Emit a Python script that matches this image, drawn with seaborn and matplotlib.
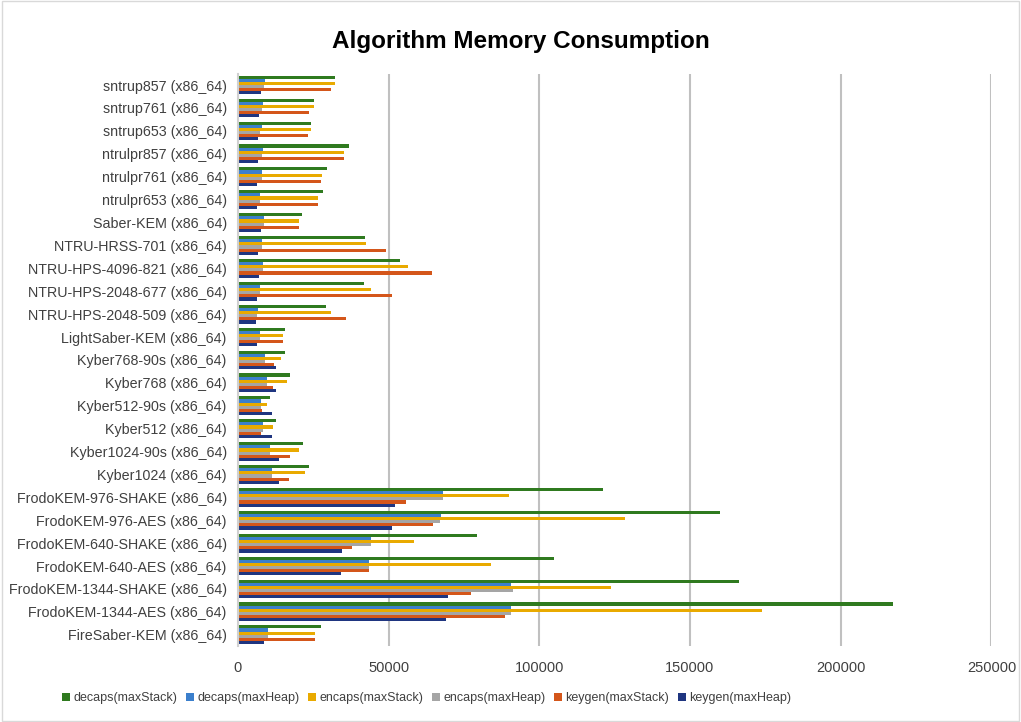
import matplotlib
matplotlib.use("Agg")
import matplotlib.pyplot as plt
import seaborn as sns
import pandas as pd
from matplotlib.patches import Rectangle

categories = [
    "sntrup857 (x86_64)", "sntrup761 (x86_64)", "sntrup653 (x86_64)",
    "ntrulpr857 (x86_64)", "ntrulpr761 (x86_64)", "ntrulpr653 (x86_64)",
    "Saber-KEM (x86_64)", "NTRU-HRSS-701 (x86_64)", "NTRU-HPS-4096-821 (x86_64)",
    "NTRU-HPS-2048-677 (x86_64)", "NTRU-HPS-2048-509 (x86_64)", "LightSaber-KEM (x86_64)",
    "Kyber768-90s (x86_64)", "Kyber768 (x86_64)", "Kyber512-90s (x86_64)",
    "Kyber512 (x86_64)", "Kyber1024-90s (x86_64)", "Kyber1024 (x86_64)",
    "FrodoKEM-976-SHAKE (x86_64)", "FrodoKEM-976-AES (x86_64)", "FrodoKEM-640-SHAKE (x86_64)",
    "FrodoKEM-640-AES (x86_64)", "FrodoKEM-1344-SHAKE (x86_64)", "FrodoKEM-1344-AES (x86_64)",
    "FireSaber-KEM (x86_64)",
]

decaps_maxStack = [32300, 25100, 24300, 36800, 29500, 28100, 21300, 42300, 53800, 42000,
                   29300, 15700, 15500, 17400, 10600, 12500, 21600, 23700,
                   121000, 160000, 79300, 104900, 166200, 217200, 27500]
decaps_maxHeap = [9100, 8400, 7900, 8400, 7900, 7400, 8800, 8100, 8400, 7400,
                  6800, 7400, 9000, 9800, 7650, 8400, 10600, 11400,
                  68000, 67300, 44300, 43400, 90500, 90500, 10100]
encaps_maxStack = [32300, 25100, 24300, 35200, 27800, 26700, 20200, 42600, 56600, 44200,
                   30800, 15100, 14400, 16400, 9800, 11800, 20200, 22100,
                   89900, 128300, 58500, 83900, 123800, 173800, 25600]
encaps_maxHeap = [8800, 8100, 7500, 8100, 7900, 7400, 8800, 8100, 8400, 7400,
                  6400, 7400, 9000, 9800, 7650, 8400, 10600, 11400,
                  68000, 67000, 44300, 43400, 91400, 90500, 10100]
keygen_maxStack = [30800, 23700, 23200, 35300, 27600, 26500, 20200, 49300, 64400, 51000,
                   36000, 15100, 12000, 11800, 8100, 7650, 17200, 17000,
                   55800, 64600, 37800, 43400, 77500, 88700, 25700]
keygen_maxHeap = [7650, 7100, 6800, 6800, 6400, 6200, 7650, 6800, 7100, 6400,
                  6000, 6400, 12500, 12500, 11400, 11400, 13600, 13600,
                  52100, 51200, 34500, 34200, 69800, 69000, 8600]

series_names = ["decaps(maxStack)", "decaps(maxHeap)", "encaps(maxStack)",
                "encaps(maxHeap)", "keygen(maxStack)", "keygen(maxHeap)"]
series_values = [decaps_maxStack, decaps_maxHeap, encaps_maxStack,
                 encaps_maxHeap, keygen_maxStack, keygen_maxHeap]
colors = ["#2f7a1f", "#3b7fcc", "#e9aa00", "#a5a5a5", "#d4561a", "#1f3580"]
x_ticks = [0, 50000, 100000, 150000, 200000, 250000]

rows = []
for name, vals in zip(series_names, series_values):
    for c, v in zip(categories, vals):
        rows.append({"Algorithm": c, "Series": name, "Value": v})
df = pd.DataFrame(rows)

sns.set_theme(style="white")
plt.rcParams["font.family"] = ["Liberation Sans", "DejaVu Sans"]

fig = plt.figure(figsize=(10.21, 7.22), dpi=100)
ax = fig.add_axes([0.233, 0.105, 0.738, 0.793])

sns.barplot(data=df, y="Algorithm", x="Value", hue="Series", order=categories,
            hue_order=series_names, palette=colors, orient="h", width=0.82,
            ax=ax, legend=True, saturation=1, linewidth=0)

ax.set_xlim(0, 250000)
ax.set_xticks(x_ticks)
ax.set_xticklabels([str(t) for t in x_ticks], fontsize=10.5, color="#404040")
ax.tick_params(axis="y", labelsize=10.3, labelcolor="#404040", length=0, pad=8)
ax.tick_params(axis="x", length=0, pad=11)
ax.set_xlabel("")
ax.set_ylabel("")
ax.grid(axis="x", color="#c0c0c0", linewidth=1.5)
ax.set_axisbelow(True)
for s in ["top", "right", "bottom"]:
    ax.spines[s].set_visible(False)
ax.spines["left"].set_color("#d0d0d0")
ax.spines["left"].set_linewidth(1.5)

ax.legend_.remove()
handles, labels = ax.get_legend_handles_labels()
fig.legend(handles[:6], labels[:6], loc="center", bbox_to_anchor=(0.418, 0.033), ncol=6,
           frameon=False, fontsize=9, handlelength=0.6, handleheight=0.6,
           handletextpad=0.3, columnspacing=0.7, labelcolor="#404040")

fig.suptitle("Algorithm Memory Consumption", x=0.51, y=0.958, fontsize=17.5,
             fontweight="bold", color="#000000")

fig.patches.append(Rectangle((0.002, 0.002), 0.996, 0.996, transform=fig.transFigure,
                             fill=False, edgecolor="#d9d9d9", linewidth=1))

fig.savefig("out.png", dpi=100)
